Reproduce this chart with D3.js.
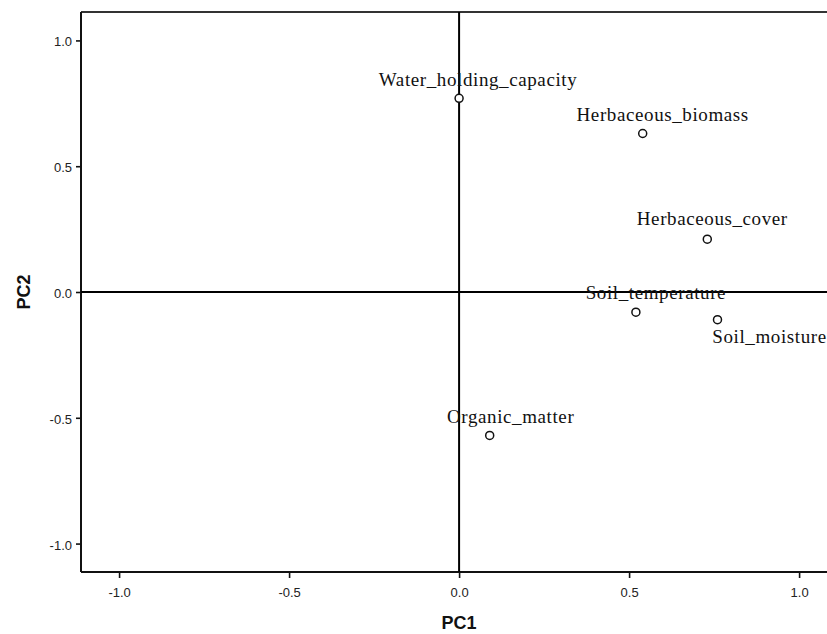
<!DOCTYPE html>
<html>
<head>
<meta charset="utf-8">
<script src="https://cdn.jsdelivr.net/npm/d3@7"></script>
<style>
  html, body { margin: 0; padding: 0; background: #fff; }
  svg { display: block; }
</style>
</head>
<body>
<svg id="chart" width="827" height="634"></svg>
<script>
// Component loadings
const variables = ["Water_holding_capacity", "Herbaceous_biomass", "Herbaceous_cover",
                   "Soil_temperature", "Soil_moisture", "Organic_matter"];
const pc1 = [0.00, 0.54, 0.73, 0.52, 0.76, 0.09];
const pc2 = [0.77, 0.63, 0.21, -0.08, -0.11, -0.57];
const xTicks = [-1.0, -0.5, 0.0, 0.5, 1.0];
const yTicks = [-1.0, -0.5, 0.0, 0.5, 1.0];

const svg = d3.select("#chart");
const plotLeft = 81, plotTop = 12, plotBottom = 572, plotRight = 845;

const x = d3.scaleLinear().domain([-1.112, 1.135]).range([plotLeft, plotRight]);
const y = d3.scaleLinear().domain([-1.113, 1.113]).range([plotBottom, plotTop]);

// label placement relative to each marker (dx, dy, anchor middle)
const labelPos = {
  "Water_holding_capacity": [19, -12],
  "Herbaceous_biomass": [20, -13],
  "Herbaceous_cover": [5, -14],
  "Soil_temperature": [20, -13],
  "Soil_moisture": [52, 23],
  "Organic_matter": [21, -12]
};

// frame: top border
svg.append("line").attr("x1", plotLeft).attr("x2", 827).attr("y1", plotTop).attr("y2", plotTop)
  .attr("stroke", "#333").attr("stroke-width", 2);

// axes
const fmt = v => d3.format(".1f")(v).replace("\u2212", "-");
const xAxis = svg.append("g").attr("transform", `translate(0,${plotBottom})`)
  .call(d3.axisBottom(x).tickValues(xTicks).tickFormat(fmt).tickSize(6).tickSizeOuter(0));
const yAxis = svg.append("g").attr("transform", `translate(${plotLeft},0)`)
  .call(d3.axisLeft(y).tickValues(yTicks).tickFormat(fmt).tickSize(5).tickSizeOuter(0));

[xAxis, yAxis].forEach(g => {
  g.select(".domain").attr("stroke", "#111").attr("stroke-width", 2);
  g.selectAll(".tick line").attr("stroke", "#111").attr("stroke-width", 1.6);
  g.selectAll(".tick text").attr("fill", "#222")
    .style("font-family", "Arial, 'Liberation Sans', sans-serif").style("font-size", "13px");
});
xAxis.selectAll(".tick text").attr("dy", null).attr("y", 25);
yAxis.selectAll(".tick text").attr("x", -9).attr("dy", "0.42em");
// extend domain lines to the plot edges
xAxis.select(".domain").attr("d", `M${plotLeft},0H827`);
yAxis.select(".domain").attr("d", `M0,${plotTop}V${plotBottom}`);

// reference lines through origin
svg.append("line").attr("x1", plotLeft).attr("x2", 827).attr("y1", y(0)).attr("y2", y(0))
  .attr("stroke", "#000").attr("stroke-width", 2);
svg.append("line").attr("x1", x(0)).attr("x2", x(0)).attr("y1", plotTop).attr("y2", plotBottom)
  .attr("stroke", "#000").attr("stroke-width", 2);

// axis titles
svg.append("text").attr("x", x(0)).attr("y", 629).attr("text-anchor", "middle")
  .style("font-family", "Arial, 'Liberation Sans', sans-serif").style("font-size", "18px")
  .style("font-weight", "bold").attr("fill", "#111").text("PC1");
svg.append("text").attr("transform", `translate(30,${y(0)}) rotate(-90)`).attr("text-anchor", "middle")
  .style("font-family", "Arial, 'Liberation Sans', sans-serif").style("font-size", "18px")
  .style("font-weight", "bold").attr("fill", "#111").text("PC2");

const pts = variables.map((v, i) => ({ name: v, px: pc1[i], py: pc2[i] }));

svg.append("g").selectAll("circle").data(pts).join("circle")
  .attr("cx", d => x(d.px)).attr("cy", d => y(d.py)).attr("r", 4)
  .attr("fill", "#fff").attr("stroke", "#111").attr("stroke-width", 1.5);

svg.append("g").selectAll("text").data(pts).join("text")
  .attr("x", d => x(d.px) + labelPos[d.name][0])
  .attr("y", d => y(d.py) + labelPos[d.name][1])
  .attr("text-anchor", "middle")
  .style("font-family", "'Liberation Serif', 'Times New Roman', serif").style("font-size", "19px")
  .style("letter-spacing", "0.6px")
  .attr("fill", "#111").text(d => d.name);
</script>
</body>
</html>
